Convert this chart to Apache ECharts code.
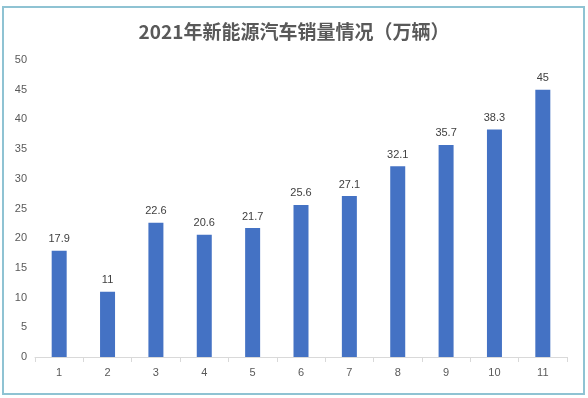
<!DOCTYPE html>
<html>
<head>
<meta charset="utf-8">
<script src="https://cdn.jsdelivr.net/npm/echarts@6/dist/echarts.min.js"></script>
<style>
html, body { margin: 0; padding: 0; background: #fff; }
#wrap { position: absolute; left: 2px; top: 6px; width: 579px; height: 385px; border: 2px solid #8fc3d3; }
#chart { position: absolute; left: 0; top: 0; width: 588px; height: 398px; }
</style>
</head>
<body>
<div id="wrap"></div>
<div id="chart"></div>
<script>
const categories = ['1', '2', '3', '4', '5', '6', '7', '8', '9', '10', '11'];
const sales = [17.9, 11, 22.6, 20.6, 21.7, 25.6, 27.1, 32.1, 35.7, 38.3, 45];

const chart = echarts.init(document.getElementById('chart'));
chart.setOption({
    animation: false,
    title: {
        text: '2021年新能源汽车销量情况（万辆）',
        left: 'center',
        top: 17,
        textStyle: {
            fontFamily: 'Noto Sans CJK SC',
            fontSize: 19,
            fontWeight: 'bold',
            color: '#595959'
        }
    },
    grid: { left: 35, right: 21, top: 60, bottom: 41 },
    xAxis: {
        type: 'category',
        data: categories,
        axisLine: { lineStyle: { color: '#d9d9d9' } },
        axisTick: { show: true, lineStyle: { color: '#d9d9d9' } },
        axisLabel: { color: '#595959', fontSize: 11, margin: 10 }
    },
    yAxis: {
        type: 'value',
        min: 0,
        max: 50,
        interval: 5,
        splitLine: { show: false },
        axisLine: { show: false },
        axisTick: { show: false },
        axisLabel: { color: '#595959', fontSize: 11, margin: 8 }
    },
    series: [{
        type: 'bar',
        data: sales,
        barWidth: 15,
        itemStyle: { color: '#4472c4' },
        label: { show: true, position: 'top', color: '#404040', fontSize: 11, distance: 6 }
    }]
});
</script>
</body>
</html>
